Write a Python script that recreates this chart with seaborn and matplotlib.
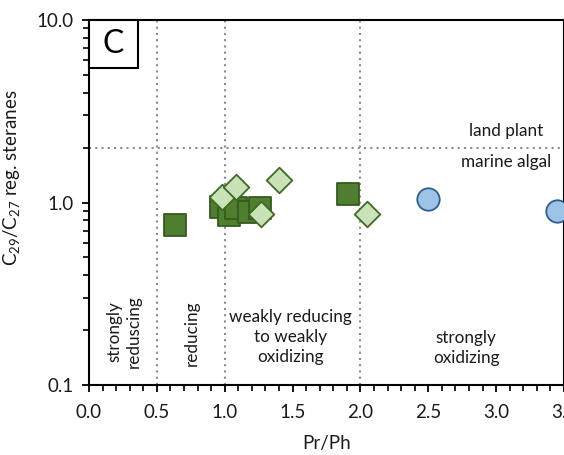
import matplotlib
matplotlib.use("Agg")
import matplotlib.pyplot as plt
import seaborn as sns
import pandas as pd
import numpy as np
from matplotlib.ticker import MultipleLocator, LogLocator, NullFormatter, FixedLocator, FormatStrFormatter
from matplotlib.patches import Rectangle

# ---- data ----
sq_prph = [0.63, 0.97, 1.03, 1.08, 1.18, 1.26, 1.91]
sq_ster = [0.75, 0.95, 0.85, 0.93, 0.89, 0.93, 1.12]

dia_prph = [0.98, 1.08, 1.40, 1.27, 2.05]
dia_ster = [1.07, 1.21, 1.32, 0.86, 0.86]

cir_prph = [2.50, 3.45]
cir_ster = [1.05, 0.90]

x_ticks = [0.0, 0.5, 1.0, 1.5, 2.0, 2.5, 3.0, 3.5]
y_ticks = [0.1, 1.0, 10.0]
redox_bounds = [0.5, 1.0, 2.0]
source_bound = 2.0

sns.set_style("ticks")
plt.rcParams['font.family'] = ['Lato', 'DejaVu Sans']
plt.rcParams['mathtext.fontset'] = 'custom'
plt.rcParams['mathtext.rm'] = 'Lato'
plt.rcParams['mathtext.it'] = 'Lato:italic'

fig = plt.figure(figsize=(5.64, 4.55), dpi=100)
ax = fig.add_axes([89/564, 1-385/455, 1-89/564, 365/455])

grid_kw = dict(color="#8c8c8c", linestyle=(0, (1, 2)), linewidth=1.5, zorder=1)
for b in redox_bounds:
    ax.axvline(b, **grid_kw)
ax.axhline(source_bound, **grid_kw)

df_sq = pd.DataFrame({"x": sq_prph, "y": sq_ster})
df_di = pd.DataFrame({"x": dia_prph, "y": dia_ster})
df_ci = pd.DataFrame({"x": cir_prph, "y": cir_ster})

sns.scatterplot(data=df_sq, x="x", y="y", marker="s", s=260, color="#4e7f2e",
                edgecolor="#37591f", linewidth=1.3, ax=ax, zorder=3, clip_on=False)
sns.scatterplot(data=df_di, x="x", y="y", marker="D", s=170, color="#c9e2b8",
                edgecolor="#3f6a22", linewidth=1.3, ax=ax, zorder=4, clip_on=False)
sns.scatterplot(data=df_ci, x="x", y="y", marker="o", s=260, color="#9dc3e6",
                edgecolor="#2d5f8c", linewidth=1.3, ax=ax, zorder=4, clip_on=False)

ax.set_yscale("log")
ax.set_xlim(0, 3.5)
ax.set_ylim(0.1, 10.0)
ax.yaxis.set_major_locator(FixedLocator(y_ticks))
ax.yaxis.set_major_formatter(FormatStrFormatter("%.1f"))
ax.yaxis.set_minor_locator(LogLocator(base=10, subs=np.arange(2, 10)))
ax.yaxis.set_minor_formatter(NullFormatter())
ax.xaxis.set_major_locator(FixedLocator(x_ticks))
ax.xaxis.set_major_formatter(FormatStrFormatter("%.1f"))
ax.xaxis.set_minor_locator(MultipleLocator(0.1))

ax.tick_params(axis="both", which="major", direction="out", length=5, width=1.3,
               labelsize=13.5, color="black", labelcolor="#1a1a1a")
ax.tick_params(axis="x", which="major", pad=9)
ax.tick_params(axis="y", which="major", pad=6)
ax.tick_params(axis="both", which="minor", direction="out", length=4, width=1.2, color="black")

for sp in ax.spines.values():
    sp.set_linewidth(1.5)
    sp.set_color("black")
    sp.set_visible(True)

ax.set_xlabel("Pr/Ph", fontsize=13.5, color="#1a1a1a", labelpad=10)
ax.set_ylabel("C$_{29}$/C$_{27}$ reg. steranes", fontsize=13.5, color="#1a1a1a")
ax.yaxis.set_label_coords(-0.14, 0.567)

txt_kw = dict(fontsize=12.3, color="#1a1a1a", ha="center", va="center", linespacing=1.3)
ax.text(3.07, 2.46, "land plant", **txt_kw)
ax.text(3.07, 1.66, "marine algal", **txt_kw)
ax.text(0.258, 0.197, "strongly\nreduscing", rotation=90, **txt_kw)
ax.text(0.757, 0.192, "reducing", rotation=90, **txt_kw)
ax.text(1.487, 0.183, "weakly reducing\nto weakly\noxidizing", **txt_kw)
ax.text(2.78, 0.160, "strongly\noxidizing", **txt_kw)

ax.add_patch(Rectangle((0, 1 - 48/365), 49/475, 48/365, transform=ax.transAxes,
                       facecolor="white", edgecolor="black", linewidth=1.5, zorder=5, clip_on=False))
ax.text(24.5/475, 1 - 24/365, "C", transform=ax.transAxes, fontsize=23, ha="center",
        va="center", color="black", zorder=6)

fig.savefig("out.png", dpi=100)
